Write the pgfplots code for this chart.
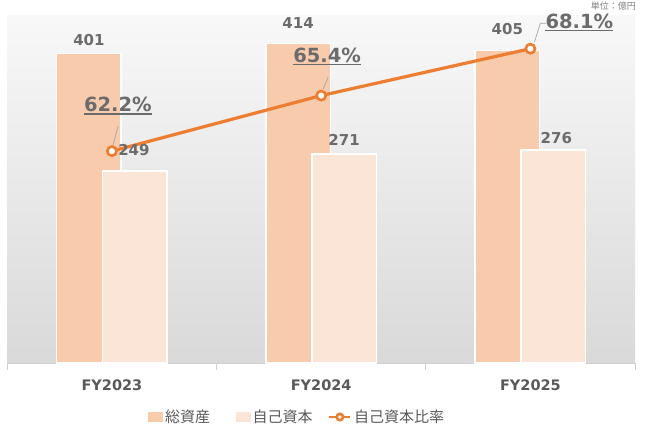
\documentclass[border=0pt]{standalone}
\usepackage{pgfplots}
\pgfplotsset{compat=1.18}
\usepackage{fontspec}
\setmainfont{DejaVu Sans}
\newfontfamily\jp{Noto Sans CJK JP}
\definecolor{totc}{HTML}{F8CBAD}
\definecolor{eqc}{HTML}{FBE5D6}
\definecolor{linec}{HTML}{ED7D31}
\definecolor{txt}{HTML}{595959}
\definecolor{val}{HTML}{6B6B6B}
\definecolor{bgtop}{HTML}{F8F8F8}
\definecolor{bgbot}{HTML}{D9D9D9}
\definecolor{tickc}{HTML}{D0D0D0}
\definecolor{leader}{HTML}{A6A6A6}
\pgfplotsset{
  lineleg/.style={legend image code/.code={\draw[mark repeat=2,mark phase=2,##1,line width=2.5pt,mark size=3.2pt] plot coordinates {(0pt,0pt) (10.5pt,0pt) (21pt,0pt)};}},
  base/.style={
    at={(7.3pt,68pt)}, anchor=south west, scale only axis,
    width=627.7pt, height=347.3pt,
    xmin=-0.5, xmax=2.5, clip=false,
  }
}
\begin{document}
\begin{tikzpicture}[x=1pt,y=1pt]
\path[use as bounding box] (0,0) rectangle (645,431);
\begin{axis}[base, ymin=0, ymax=450,
  axis background/.style={top color=bgtop, bottom color=bgbot},
  axis x line=bottom, axis y line=none,
  x axis line style={-, draw=tickc, line width=0.8pt},
  xtick={0,1,2}, xticklabels={FY2023,FY2024,FY2025},
  major tick length=0pt,
  minor xtick={-0.5,0.5,1.5,2.5}, minor tick length=7pt, tick align=outside,
  minor tick style={draw=tickc, line width=0.8pt},
  xticklabel style={font=\fontsize{14.5}{14.5}\selectfont\bfseries, text=txt, anchor=base, yshift=-27.7pt},
  ybar, bar width=64.5pt,
]
\addplot[fill=totc, draw=white, line width=1.5pt, bar shift=-23pt] coordinates {(0,401) (1,414) (2,405)};
\addplot[fill=eqc, draw=white, line width=1.5pt, bar shift=23pt] coordinates {(0,249) (1,271) (2,276)};
\coordinate[xshift=-23pt, yshift=8pt] (a1) at (axis cs:0,401);
\coordinate[xshift=-23pt, yshift=15pt] (a2) at (axis cs:1,414);
\coordinate[xshift=-23pt, yshift=15.5pt] (a3) at (axis cs:2,405);
\coordinate[xshift=22pt, yshift=15pt] (b1) at (axis cs:0,249);
\coordinate[xshift=23pt, yshift=8.5pt] (b2) at (axis cs:1,271);
\coordinate[xshift=26pt, yshift=6pt] (b3) at (axis cs:2,276);
\end{axis}
\begin{axis}[base, ymin=50, ymax=70, axis lines=none,
  legend columns=3,
  legend style={draw=none, fill=none, at={(0.4623,-0.1555)}, anchor=center,
    font=\jp\fontsize{15}{15}\selectfont, text=txt,
    nodes={inner sep=2.5pt},
    /tikz/column 2/.style={column sep=23pt},
    /tikz/column 4/.style={column sep=13pt}},
]
\addlegendimage{legend image code/.code={\fill[totc] (0pt,-4.5pt) rectangle (14pt,4.5pt);}}
\addlegendentry{総資産}
\addlegendimage{legend image code/.code={\fill[eqc] (0pt,-4.5pt) rectangle (14pt,4.5pt);}}
\addlegendentry{自己資本}
\addplot[linec, line width=3.2pt, mark=*, mark size=4.6pt,
  mark options={fill=white, draw=linec, line width=2.6pt}, lineleg]
  coordinates {(0,62.2) (1,65.4) (2,68.1)};
\addlegendentry{自己資本比率}
\begin{scope}[every node/.style={anchor=base, inner sep=0pt, font=\fontsize{19.5}{19.5}\selectfont\bfseries, text=val}]
\node[xshift=6pt, yshift=39.7pt] (p1) at (axis cs:0,62.2) {62.2\%};
\node[xshift=6pt, yshift=33.5pt] (p2) at (axis cs:1,65.4) {65.4\%};
\node[xshift=49pt, yshift=20.5pt] (p3) at (axis cs:2,68.1) {68.1\%};
\end{scope}
\draw[leader, line width=0.7pt] (axis cs:0,62.2) ++(6pt,24.7pt) -- ++(-5pt,-19pt);
\draw[leader, line width=0.7pt] (axis cs:1,65.4) ++(7pt,18.5pt) -- ++(-5pt,-12pt);
\draw[leader, line width=0.7pt] (axis cs:2,68.1) ++(16pt,25.5pt) -- ++(-6pt,0pt) -- ++(-6pt,-19pt);
\end{axis}
\draw[val, line width=1.3pt] ([yshift=-2.5pt]p1.base west) -- ([yshift=-2.5pt]p1.base east);
\draw[val, line width=1.3pt] ([yshift=-2.5pt]p2.base west) -- ([yshift=-2.5pt]p2.base east);
\draw[val, line width=1.3pt] ([yshift=-2.5pt]p3.base west) -- ([yshift=-2.5pt]p3.base east);
\begin{scope}[every node/.style={anchor=base, inner sep=0pt, font=\fontsize{15}{15}\selectfont\bfseries, text=val}]
\node at (a1) {401};
\node at (a2) {414};
\node at (a3) {405};
\node at (b1) {249};
\node at (b2) {271};
\node at (b3) {276};
\end{scope}
\node[anchor=east, inner sep=0pt, font=\jp\fontsize{9}{9}\selectfont, text=gray] at (636,425) {単位：億円};
\end{tikzpicture}
\end{document}
